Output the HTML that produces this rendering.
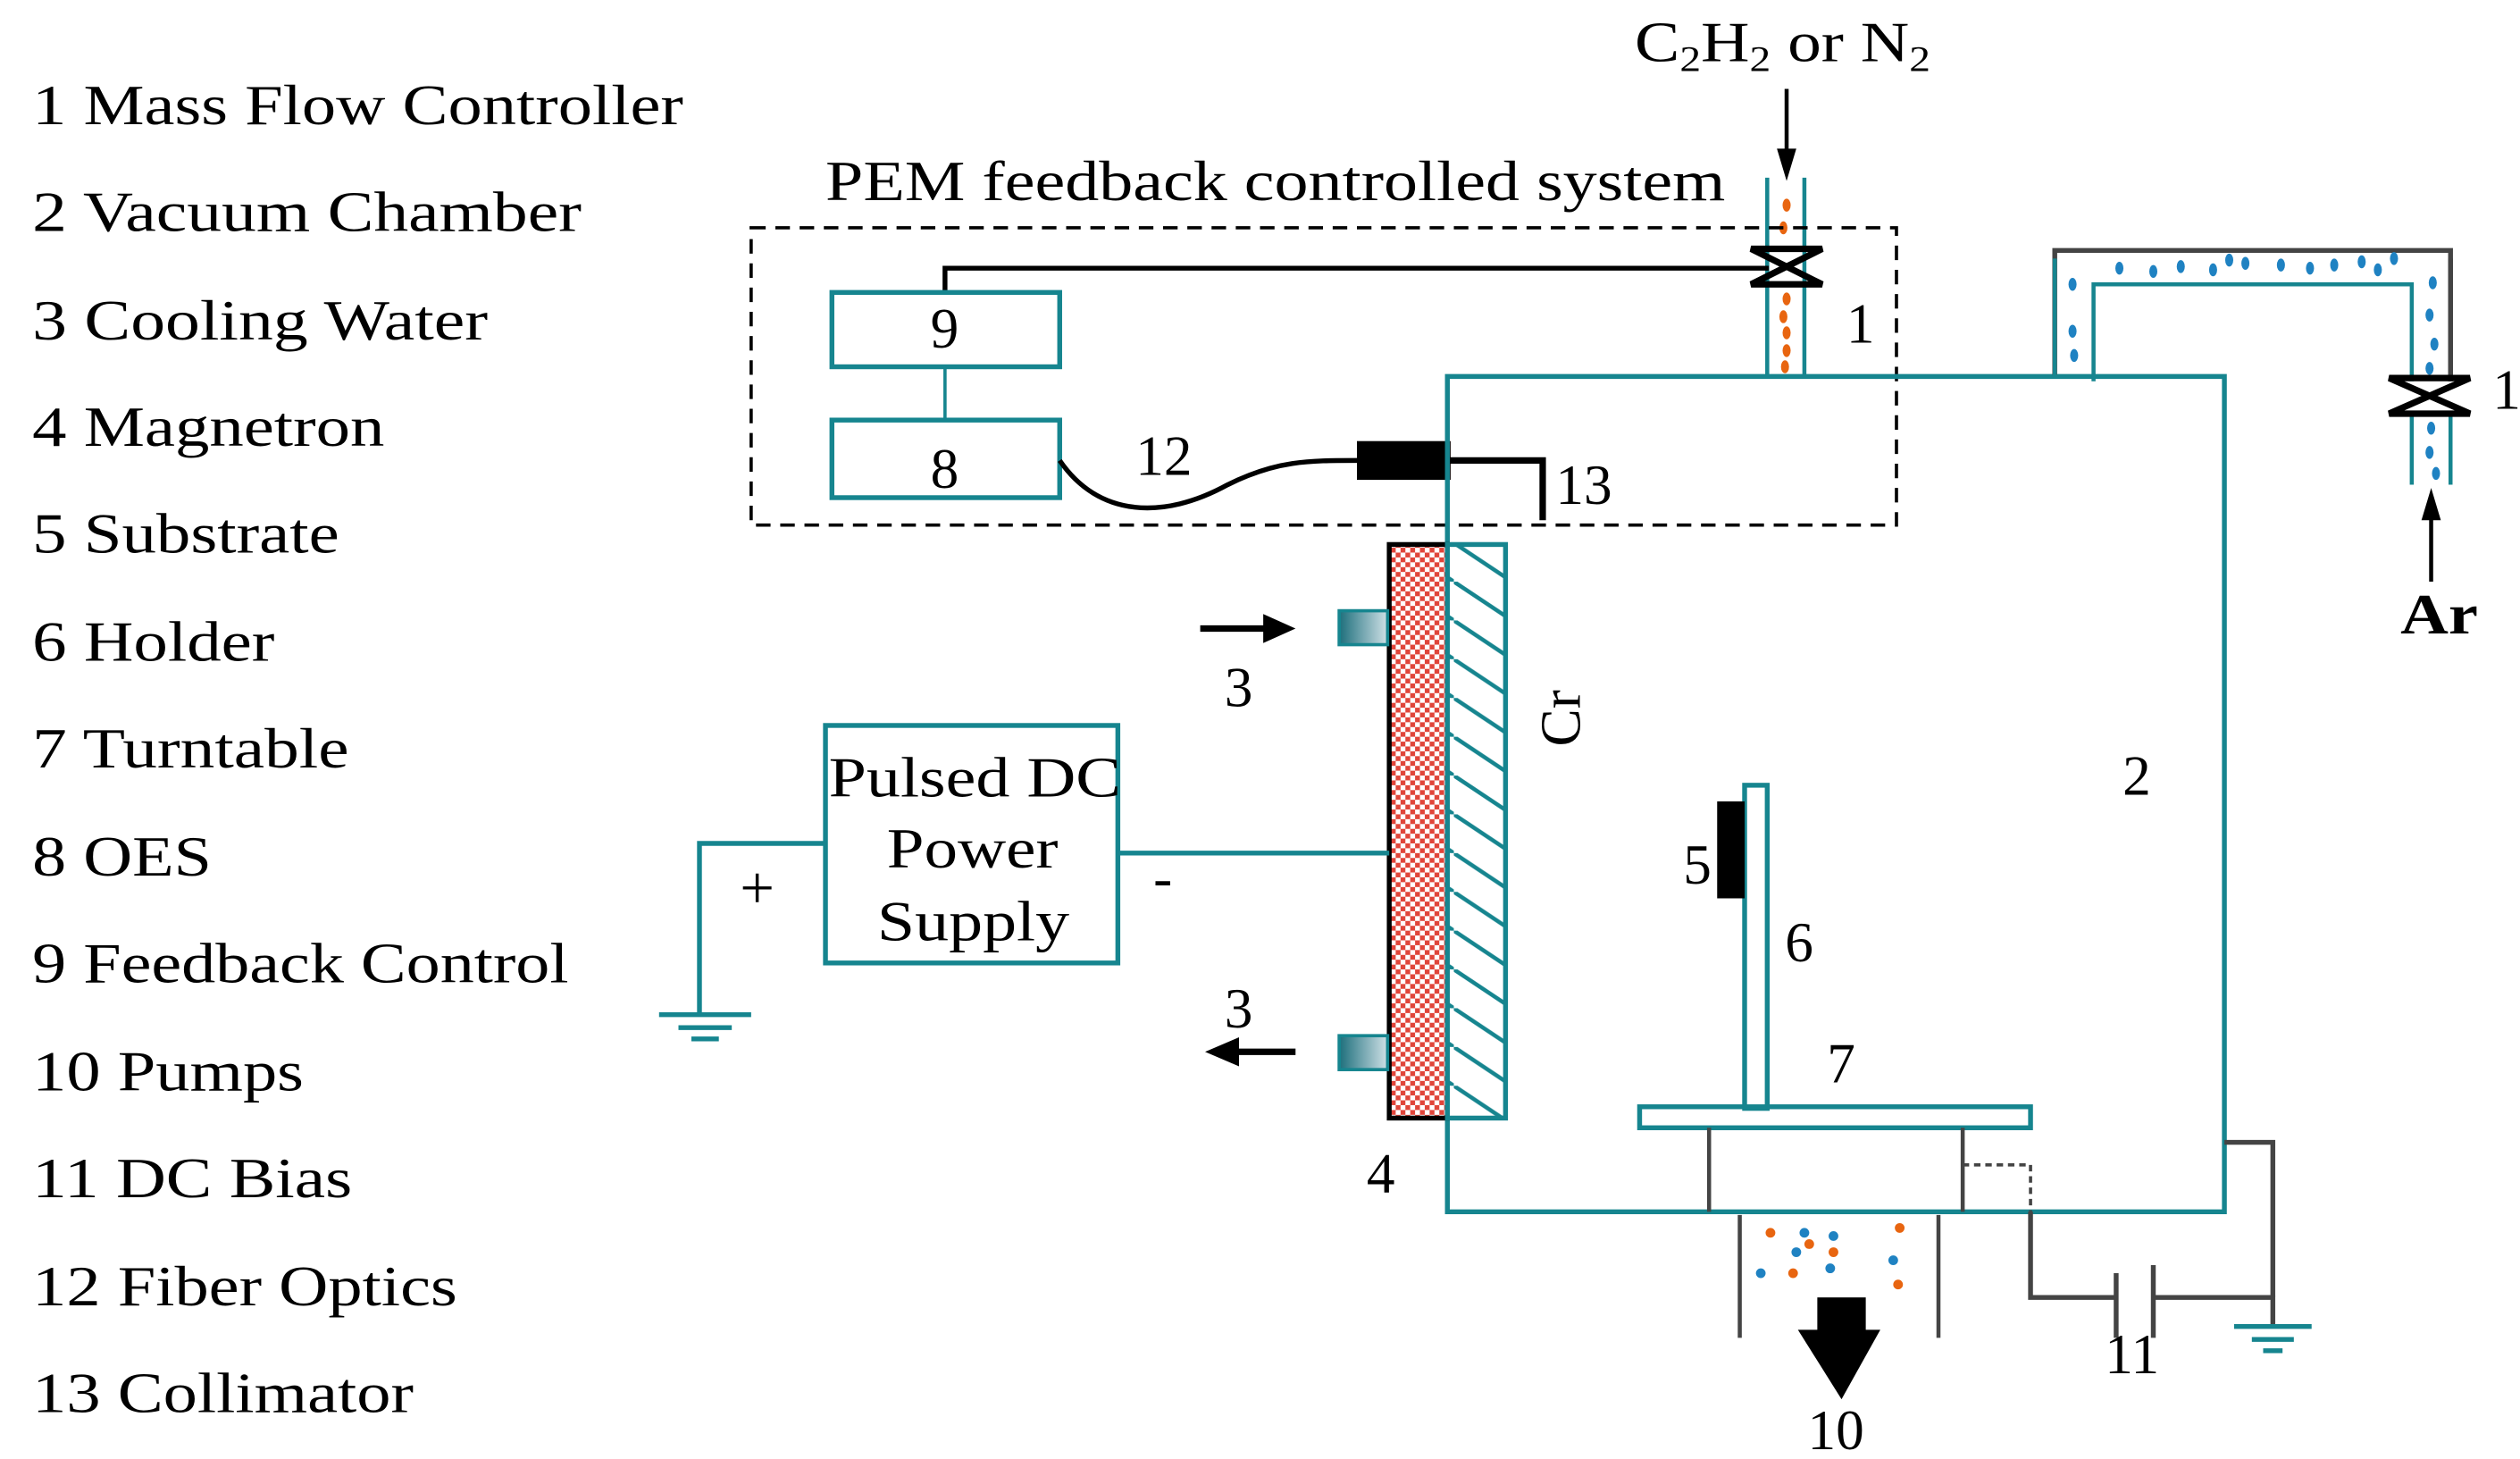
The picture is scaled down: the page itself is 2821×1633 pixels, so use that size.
<!DOCTYPE html>
<html><head><meta charset="utf-8"><style>
html,body{margin:0;padding:0;background:#fff;}
svg{display:block;}
text{font-family:"Liberation Serif",serif;fill:#000;}
</style></head><body>
<svg width="2821" height="1633" viewBox="0 0 1560 903" preserveAspectRatio="none" xmlns="http://www.w3.org/2000/svg">
<defs>
<pattern id="chk" width="6" height="6" patternUnits="userSpaceOnUse">
<rect width="6" height="6" fill="#fff"/><rect width="3" height="3" fill="#e0453a"/><rect x="3" y="3" width="3" height="3" fill="#e0453a"/>
</pattern>
<pattern id="hat" width="36" height="24" patternUnits="userSpaceOnUse">
<rect width="36" height="24" fill="#fff"/><path d="M0 0 L36 24" stroke="#16858f" stroke-width="2.5"/>
</pattern>
<linearGradient id="gp" x1="0" x2="1"><stop offset="0" stop-color="#1d6f7c"/><stop offset="1" stop-color="#cfe0e6"/></linearGradient>
</defs>
<!-- legend -->
<g font-size="35">
<text x="20" y="77" textLength="403" lengthAdjust="spacingAndGlyphs">1 Mass Flow Controller</text>
<text x="20" y="143" textLength="340" lengthAdjust="spacingAndGlyphs">2 Vacuum Chamber</text>
<text x="20" y="210" textLength="282" lengthAdjust="spacingAndGlyphs">3 Cooling Water</text>
<text x="20" y="276" textLength="218" lengthAdjust="spacingAndGlyphs">4 Magnetron</text>
<text x="20" y="342" textLength="190" lengthAdjust="spacingAndGlyphs">5 Substrate</text>
<text x="20" y="409" textLength="150" lengthAdjust="spacingAndGlyphs">6 Holder</text>
<text x="20" y="475" textLength="196" lengthAdjust="spacingAndGlyphs">7 Turntable</text>
<text x="20" y="542" textLength="111" lengthAdjust="spacingAndGlyphs">8 OES</text>
<text x="20" y="608" textLength="332" lengthAdjust="spacingAndGlyphs">9 Feedback Control</text>
<text x="20" y="675" textLength="168" lengthAdjust="spacingAndGlyphs">10 Pumps</text>
<text x="20" y="741" textLength="198" lengthAdjust="spacingAndGlyphs">11 DC Bias</text>
<text x="20" y="808" textLength="263" lengthAdjust="spacingAndGlyphs">12 Fiber Optics</text>
<text x="20" y="874" textLength="236" lengthAdjust="spacingAndGlyphs">13 Collimator</text>
</g>
<!-- top gas -->
<text x="1012" y="38" font-size="35" textLength="183" lengthAdjust="spacingAndGlyphs">C<tspan font-size="22" dy="6">2</tspan><tspan dy="-6">H</tspan><tspan font-size="22" dy="6">2</tspan><tspan dy="-6"> or N</tspan><tspan font-size="22" dy="6">2</tspan></text>
<line x1="1106" y1="55" x2="1106" y2="96" stroke="#000" stroke-width="2.5"/>
<polygon points="1100,92 1112,92 1106,112" fill="#000"/>
<g stroke="#16858f" stroke-width="2.5"><line x1="1094" y1="110" x2="1094" y2="233"/><line x1="1117" y1="110" x2="1117" y2="233"/></g>
<g fill="#e86510"><ellipse cx="1106" cy="127" rx="2.5" ry="4"/><ellipse cx="1104" cy="141" rx="2.5" ry="4"/><ellipse cx="1106" cy="185" rx="2.5" ry="4"/><ellipse cx="1104" cy="196" rx="2.5" ry="4"/><ellipse cx="1106" cy="206" rx="2.5" ry="4"/><ellipse cx="1106" cy="217" rx="2.5" ry="4"/><ellipse cx="1105" cy="227" rx="2.5" ry="4"/></g>
<text x="511" y="124" font-size="35" textLength="557" lengthAdjust="spacingAndGlyphs">PEM feedback controlled system</text>
<rect x="465" y="141" width="709" height="184" fill="none" stroke="#000" stroke-width="2" stroke-dasharray="9,6"/>
<polyline points="585,181 585,166 1095,166" fill="none" stroke="#000" stroke-width="3"/>
<g stroke="#000" stroke-width="4" fill="none"><path d="M1084 154 L1128 154 L1084 176 L1128 176 Z"/></g>
<text x="1143" y="212" font-size="35">1</text>
<!-- boxes 9,8 -->
<g fill="none" stroke="#16858f" stroke-width="3"><rect x="515" y="181" width="141" height="46"/><rect x="515" y="260" width="141" height="48"/></g>
<line x1="585" y1="227" x2="585" y2="260" stroke="#16858f" stroke-width="2"/>
<text x="576" y="215" font-size="35">9</text><text x="576" y="302" font-size="35">8</text>
<path d="M656 285 C680 320 720 322 760 300 C790 285 810 285 840 285" fill="none" stroke="#000" stroke-width="3"/>
<text x="703" y="294" font-size="35">12</text>
<rect x="840" y="273" width="58" height="24" fill="#000"/>
<polyline points="897,285 955,285 955,322" fill="none" stroke="#000" stroke-width="4"/>
<text x="963" y="312" font-size="35">13</text>
<!-- chamber -->
<g stroke="#16858f" stroke-width="3" fill="none">
<polyline points="896,337 896,233 1377,233 1377,750 896,750 896,692"/>
</g>
<!-- Ar pipe -->
<polyline points="1272,232 1272,155 1517,155 1517,236" fill="none" stroke="#444" stroke-width="3"/>
<line x1="1272" y1="160" x2="1272" y2="232" stroke="#16858f" stroke-width="2.5"/>
<line x1="1517" y1="160" x2="1517" y2="236" stroke="#444" stroke-width="3"/>
<polyline points="1296,236 1296,176 1493,176 1493,236" fill="none" stroke="#16858f" stroke-width="2.5"/>
<g stroke="#16858f" stroke-width="2.5"><line x1="1493" y1="255" x2="1493" y2="300"/><line x1="1517" y1="255" x2="1517" y2="300"/></g>
<g fill="#1f82c2">
<ellipse cx="1283" cy="176" rx="2.5" ry="4"/><ellipse cx="1283" cy="205" rx="2.5" ry="4"/><ellipse cx="1284" cy="220" rx="2.5" ry="4"/>
<ellipse cx="1312" cy="166" rx="2.5" ry="4"/><ellipse cx="1333" cy="168" rx="2.5" ry="4"/><ellipse cx="1350" cy="165" rx="2.5" ry="4"/><ellipse cx="1370" cy="167" rx="2.5" ry="4"/><ellipse cx="1380" cy="161" rx="2.5" ry="4"/><ellipse cx="1390" cy="163" rx="2.5" ry="4"/><ellipse cx="1412" cy="164" rx="2.5" ry="4"/><ellipse cx="1430" cy="166" rx="2.5" ry="4"/><ellipse cx="1445" cy="164" rx="2.5" ry="4"/><ellipse cx="1462" cy="162" rx="2.5" ry="4"/><ellipse cx="1472" cy="167" rx="2.5" ry="4"/><ellipse cx="1482" cy="160" rx="2.5" ry="4"/>
<ellipse cx="1506" cy="175" rx="2.5" ry="4"/><ellipse cx="1504" cy="195" rx="2.5" ry="4"/><ellipse cx="1507" cy="213" rx="2.5" ry="4"/><ellipse cx="1504" cy="228" rx="2.5" ry="4"/>
<ellipse cx="1505" cy="265" rx="2.5" ry="4"/><ellipse cx="1504" cy="280" rx="2.5" ry="4"/><ellipse cx="1508" cy="293" rx="2.5" ry="4"/>
</g>
<path d="M1479 234 L1529 234 L1479 256 L1529 256 Z" fill="none" stroke="#000" stroke-width="4"/>
<text x="1543" y="253" font-size="35">1</text>
<line x1="1505" y1="360" x2="1505" y2="318" stroke="#000" stroke-width="2.5"/>
<polygon points="1499,322 1511,322 1505,302" fill="#000"/>
<text x="1486" y="392" font-size="35" font-weight="bold" textLength="48" lengthAdjust="spacingAndGlyphs">Ar</text>
<!-- magnetron -->
<rect x="860" y="337" width="36" height="355" fill="url(#chk)" stroke="#000" stroke-width="3"/>
<rect x="896" y="337" width="36" height="355" fill="url(#hat)" stroke="#16858f" stroke-width="3"/>
<rect x="829" y="378" width="30" height="21" fill="url(#gp)" stroke="#16858f" stroke-width="2"/>
<rect x="829" y="641" width="30" height="21" fill="url(#gp)" stroke="#16858f" stroke-width="2"/>
<line x1="743" y1="389" x2="785" y2="389" stroke="#000" stroke-width="4"/><polygon points="782,380 802,389 782,398" fill="#000"/>
<line x1="765" y1="651" x2="802" y2="651" stroke="#000" stroke-width="4"/><polygon points="767,642 746,651 767,660" fill="#000"/>
<text x="758" y="437" font-size="35">3</text><text x="758" y="636" font-size="35">3</text>
<text transform="translate(978,462) rotate(-90)" font-size="35">Cr</text>
<text x="846" y="738" font-size="35">4</text>
<!-- power supply -->
<rect x="511" y="449" width="181" height="147" fill="none" stroke="#16858f" stroke-width="3"/>
<g font-size="35"><text x="513" y="493" textLength="181" lengthAdjust="spacingAndGlyphs">Pulsed DC</text><text x="549" y="537" textLength="106" lengthAdjust="spacingAndGlyphs">Power</text><text x="543" y="582" textLength="119" lengthAdjust="spacingAndGlyphs">Supply</text></g>
<line x1="692" y1="528" x2="860" y2="528" stroke="#16858f" stroke-width="3"/>
<text x="714" y="555" font-size="35">-</text>
<polyline points="511,522 433,522 433,628" fill="none" stroke="#16858f" stroke-width="3"/>
<g stroke="#16858f" stroke-width="3"><line x1="408" y1="628" x2="465" y2="628"/><line x1="420" y1="636" x2="453" y2="636"/><line x1="428" y1="643" x2="445" y2="643"/></g>
<text x="458" y="562" font-size="38">+</text>
<!-- holder / substrate / turntable -->
<rect x="1080" y="486" width="14" height="200" fill="none" stroke="#16858f" stroke-width="3"/>
<rect x="1063" y="496" width="17" height="60" fill="#000"/>
<text x="1042" y="547" font-size="35">5</text><text x="1105" y="595" font-size="35">6</text><text x="1131" y="670" font-size="35">7</text>
<rect x="1015" y="685" width="242" height="13" fill="none" stroke="#16858f" stroke-width="3"/>
<g stroke="#444" stroke-width="2.5"><line x1="1058" y1="698" x2="1058" y2="750"/><line x1="1215" y1="698" x2="1215" y2="750"/></g>
<polyline points="1215,721 1257,721 1257,750" fill="none" stroke="#444" stroke-width="2" stroke-dasharray="4,3"/>
<polyline points="1257,750 1257,803 1310,803" fill="none" stroke="#444" stroke-width="3"/>
<g stroke="#444" stroke-width="3"><line x1="1310" y1="788" x2="1310" y2="828"/><line x1="1333" y1="783" x2="1333" y2="828"/></g>
<polyline points="1333,803 1407,803 1407,820" fill="none" stroke="#444" stroke-width="3"/>
<polyline points="1377,707 1407,707 1407,803" fill="none" stroke="#444" stroke-width="3"/>
<g stroke="#16858f" stroke-width="3"><line x1="1383" y1="821" x2="1431" y2="821"/><line x1="1394" y1="829" x2="1420" y2="829"/><line x1="1401" y1="836" x2="1413" y2="836"/></g>
<text x="1303" y="850" font-size="35">11</text>
<text x="1314" y="492" font-size="35">2</text>
<!-- pump -->
<g stroke="#444" stroke-width="2.5"><line x1="1077" y1="752" x2="1077" y2="828"/><line x1="1200" y1="752" x2="1200" y2="828"/></g>
<g fill="#e86510"><circle cx="1096" cy="763" r="3"/><circle cx="1120" cy="770" r="3"/><circle cx="1135" cy="775" r="3"/><circle cx="1176" cy="760" r="3"/><circle cx="1110" cy="788" r="3"/><circle cx="1175" cy="795" r="3"/></g>
<g fill="#1f82c2"><circle cx="1117" cy="763" r="3"/><circle cx="1135" cy="765" r="3"/><circle cx="1112" cy="775" r="3"/><circle cx="1090" cy="788" r="3"/><circle cx="1133" cy="785" r="3"/><circle cx="1172" cy="780" r="3"/></g>
<rect x="1125" y="803" width="30" height="22" fill="#000"/>
<polygon points="1113,823 1164,823 1140,866" fill="#000"/>
<text x="1119" y="897" font-size="35">10</text>
</svg>
</body></html>
